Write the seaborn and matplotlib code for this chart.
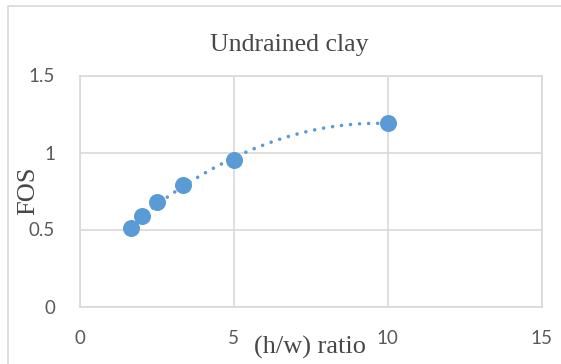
import matplotlib
matplotlib.use("Agg")
import matplotlib.pyplot as plt
from matplotlib.patches import Rectangle
import numpy as np
import pandas as pd
import seaborn as sns

# Height-to-width ratio of the slope and its factor of safety
hw_ratio = [5 / 3, 2.0, 2.5, 10 / 3, 5.0, 10.0]
fos = [0.51, 0.59, 0.68, 0.79, 0.95, 1.19]

x_ticks = [0, 5, 10, 15]
y_ticks = [0, 0.5, 1, 1.5]

df = pd.DataFrame({"hw": hw_ratio, "fos": fos})

sns.set_theme(style="white")
plt.rcParams["font.family"] = ["Lato", "DejaVu Sans"]

BLUE = "#5B9BD5"
GRID = "#D9D9D9"
TEXT = "#595959"
LABEL = "#474747"

fig = plt.figure(figsize=(5.61, 3.64), dpi=100)
W, H = 561, 364
ax = fig.add_axes([80 / W, (H - 306.5) / H, (541.5 - 80) / W, (306.5 - 75.5) / H])

# chart-area border
fig.patches.append(Rectangle((8 / W, -0.2), 1.2, 1.2 - 6 / H, transform=fig.transFigure,
                             fill=False, edgecolor=GRID, linewidth=1.2, zorder=0))

# second-order trendline
sns.regplot(data=df, x="hw", y="fos", order=2, ci=None, scatter=False, ax=ax,
            line_kws=dict(color=BLUE, linewidth=2.6, linestyle=(0, (0.01, 2.5)),
                          dash_capstyle="round", zorder=2))
sns.scatterplot(data=df, x="hw", y="fos", ax=ax, s=150, color=BLUE,
                edgecolor=BLUE, linewidth=0, zorder=3)

ax.set_xlim(0, 15)
ax.set_ylim(0, 1.5)
ax.set_xticks(x_ticks)
ax.set_yticks(y_ticks)
ax.set_xticklabels([str(t) for t in x_ticks])
ax.set_yticklabels([f"{t:g}" for t in y_ticks])
ax.grid(True, color=GRID, linewidth=1.2)
ax.set_axisbelow(True)
for s in ax.spines.values():
    s.set_color(GRID)
    s.set_linewidth(1.2)
ax.tick_params(axis="both", length=0, labelsize=13.5, labelcolor=TEXT)
ax.tick_params(axis="x", pad=17)
ax.tick_params(axis="y", pad=18)
ax.set_xlabel("")
ax.set_ylabel("")

serif = ["Liberation Serif", "DejaVu Serif"]
fig.text(289 / W, 1 - 45 / H, "Undrained clay", ha="center", va="center",
         fontsize=18.5, color=LABEL, family=serif)
fig.text(28 / W, 1 - 191 / H, "FOS", ha="center", va="center", rotation=90,
         fontsize=19, color=LABEL, family=serif)
fig.text(310 / W, 1 - 347 / H, "(h/w) ratio", ha="center", va="center",
         fontsize=19, color=LABEL, family=serif)

fig.savefig("out.png", dpi=100, facecolor="white")
